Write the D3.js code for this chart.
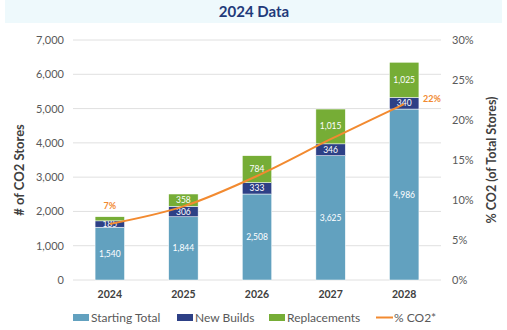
<!DOCTYPE html>
<html>
<head>
<meta charset="utf-8">
<script src="https://cdn.jsdelivr.net/npm/d3@7"></script>
<style>
    body { margin: 0; background: #fff; }
    text { font-family: Lato, "Open Sans", sans-serif; }
</style>
</head>
<body>
<div id="chart-area"></div>
<script>
'use strict';

let years = ['2024', '2025', '2026', '2027', '2028'];
let starting = [1540, 1844, 2508, 3625, 4986];
let newBuilds = [185, 306, 333, 346, 340];
let replacements = [120, 358, 784, 1015, 1025];
let pctCO2 = [7, 9.2, 13, 17.6, 22];
let leftTicks = [0, 1000, 2000, 3000, 4000, 5000, 6000, 7000];
let rightTicks = [0, 5, 10, 15, 20, 25, 30];
let seriesNames = ['Starting Total', 'New Builds', 'Replacements'];
let colours = ['#62a1bf', '#2d4086', '#76ad36'];
let lineColour = '#f28a30';

let W = 507, H = 330;
let svg = d3.select('#chart-area').append('svg')
    .attr('width', W)
    .attr('height', H);

// title band
svg.append('rect')
    .attr('x', 5).attr('y', 0)
    .attr('width', 497).attr('height', 23)
    .attr('fill', '#eef9fc');
svg.append('text')
    .attr('x', 254).attr('y', 17)
    .attr('text-anchor', 'middle')
    .attr('font-size', 15)
    .attr('font-weight', 'bold')
    .attr('fill', '#1f3a7a')
    .text('2024 Data');

let x = d3.scaleBand()
    .domain(years)
    .range([73, 441])
    .paddingInner(0.6)
    .paddingOuter(0.3);

let y = d3.scaleLinear()
    .domain([0, 7000])
    .range([280, 40]);

let y2 = d3.scaleLinear()
    .domain([0, 30])
    .range([280, 40]);

// grid
svg.selectAll('.grid')
    .data(leftTicks)
    .enter()
    .append('line')
        .attr('x1', 73).attr('x2', 441)
        .attr('y1', (d) => y(d)).attr('y2', (d) => y(d))
        .attr('stroke', '#e0e0e0')
        .attr('stroke-width', 1);

// left axis labels
svg.selectAll('.ltick')
    .data(leftTicks)
    .enter()
    .append('text')
        .attr('x', 64)
        .attr('y', (d) => y(d) + 4)
        .attr('text-anchor', 'end')
        .attr('font-size', 11)
        .attr('fill', '#595959')
        .text((d) => d3.format(',')(d));

svg.selectAll('.rtick')
    .data(rightTicks)
    .enter()
    .append('text')
        .attr('x', 452)
        .attr('y', (d) => y2(d) + 4)
        .attr('font-size', 11)
        .attr('fill', '#595959')
        .text((d) => d + '%');

svg.append('text')
    .attr('transform', 'translate(24,170) rotate(-90)')
    .attr('text-anchor', 'middle')
    .attr('font-size', 13)
    .attr('font-weight', 'bold')
    .attr('fill', '#404040')
    .text('# of CO2 Stores');

svg.append('text')
    .attr('transform', 'translate(496,160) rotate(-90)')
    .attr('text-anchor', 'middle')
    .attr('font-size', 12.5)
    .attr('font-weight', 'bold')
    .attr('fill', '#404040')
    .text('% CO2 (of Total Stores)');

// stacked bars
let table = years.map((yr, i) => ({
    year: yr,
    'Starting Total': starting[i],
    'New Builds': newBuilds[i],
    'Replacements': replacements[i]
}));
let stack = d3.stack().keys(seriesNames)(table);

stack.forEach((layer, k) => {
    let g = svg.append('g');
    g.selectAll('rect')
        .data(layer)
        .enter()
        .append('rect')
            .attr('x', (d) => x(d.data.year))
            .attr('y', (d) => y(d[1]))
            .attr('width', x.bandwidth())
            .attr('height', (d) => y(d[0]) - y(d[1]))
            .attr('fill', colours[k])
            .attr('stroke', '#ffffff')
            .attr('stroke-width', 0.5);
    g.selectAll('text')
        .data(layer.filter((d) => d[1] - d[0] > 150))
        .enter()
        .append('text')
            .attr('x', (d) => x(d.data.year) + x.bandwidth() / 2)
            .attr('y', (d) => (y(d[0]) + y(d[1])) / 2 + 3)
            .attr('text-anchor', 'middle')
            .attr('font-size', 8.5)
            .attr('fill', '#ffffff')
            .text((d) => d3.format(',')(d[1] - d[0]));
});

// % line
let line = d3.line()
    .x((d, i) => x(years[i]) + x.bandwidth() / 2)
    .y((d) => y2(d))
    .curve(d3.curveMonotoneX);

svg.append('path')
    .datum(pctCO2)
    .attr('d', line)
    .attr('fill', 'none')
    .attr('stroke', lineColour)
    .attr('stroke-width', 2);

svg.append('text')
    .attr('x', x(years[0]) + x.bandwidth() / 2)
    .attr('y', 209)
    .attr('text-anchor', 'middle')
    .attr('font-size', 9)
    .attr('font-weight', 'bold')
    .attr('fill', lineColour)
    .text(pctCO2[0] + '%');

svg.append('text')
    .attr('x', 423)
    .attr('y', 102)
    .attr('font-size', 9)
    .attr('font-weight', 'bold')
    .attr('fill', lineColour)
    .text(pctCO2[4] + '%');

// x labels
svg.selectAll('.xlab')
    .data(years)
    .enter()
    .append('text')
        .attr('x', (d) => x(d) + x.bandwidth() / 2)
        .attr('y', 298)
        .attr('text-anchor', 'middle')
        .attr('font-size', 10.5)
        .attr('font-weight', 'bold')
        .attr('fill', '#404040')
        .text((d) => d);

// legend
let legendX = [73, 177, 269];
seriesNames.forEach((name, k) => {
    svg.append('rect')
        .attr('x', legendX[k]).attr('y', 314)
        .attr('width', 16).attr('height', 7)
        .attr('fill', colours[k]);
    svg.append('text')
        .attr('x', legendX[k] + 18).attr('y', 322)
        .attr('font-size', 12)
        .attr('fill', '#595959')
        .text(name);
});
svg.append('line')
    .attr('x1', 376).attr('x2', 393)
    .attr('y1', 317.5).attr('y2', 317.5)
    .attr('stroke', lineColour)
    .attr('stroke-width', 2);
svg.append('text')
    .attr('x', 394).attr('y', 322)
    .attr('font-size', 12)
    .attr('fill', '#595959')
    .text('% CO2*');
</script>
</body>
</html>
